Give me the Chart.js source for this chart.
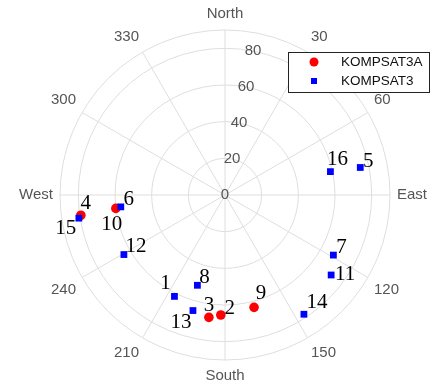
<!DOCTYPE html>
<html>
<head>
<meta charset="utf-8">
<script src="https://cdn.jsdelivr.net/npm/chart.js@4.4.1/dist/chart.umd.min.js"></script>
<style>
html, body { margin: 0; padding: 0; background: #fff; }
#wrap { width: 434px; height: 385px; }
</style>
</head>
<body>
<div id="wrap"><canvas id="sky"></canvas></div>
<script>
// azimuth labels every 30 deg, clockwise from north
const azLabels = ['North', '30', '60', 'East', '120', '150', 'South', '210', '240', 'West', '300', '330'];
const rTicks = [0, 20, 40, 60, 80];

// KOMPSAT3A
const k3aIds = [2, 3, 4, 9, 10];
const k3aAz = [181.9, 187.6, 262.1, 165.3, 263.2];
const k3aR = [65.5, 67.3, 79.4, 63.3, 60.0];

// KOMPSAT3
const k3Ids = [1, 5, 6, 7, 8, 11, 12, 13, 14, 15, 16];
const k3Az = [206.7, 78.6, 263.4, 118.9, 196.8, 126.9, 239.3, 195.6, 146.3, 260.8, 77.7];
const k3R = [61.8, 75.3, 57.2, 67.6, 51.5, 72.5, 64.0, 65.4, 78.0, 80.7, 58.9];

const SLOTS = 720; // half a degree per radar slot

function toSlots(az, r, ids) {
    const data = new Array(SLOTS).fill(null);
    const slotIds = new Array(SLOTS).fill(null);
    az.forEach((a, i) => {
        const k = Math.round(a * SLOTS / 360) % SLOTS;
        data[k] = r[i];
        slotIds[k] = ids[i];
    });
    return { data, slotIds };
}

const s3a = toSlots(k3aAz, k3aR, k3aIds);
const s3 = toSlots(k3Az, k3R, k3Ids);
const step = SLOTS / azLabels.length;
const labels = Array.from({ length: SLOTS }, (_, i) => i % step === 0 ? azLabels[i / step] : '');

// where each number sits relative to its marker
const numOffset = {
    1: [-9, -13], 2: [9, -7], 3: [0, -12], 4: [5, -12], 5: [8, -6], 6: [8, -7],
    7: [8, -8], 8: [7, -8], 9: [7, -14], 10: [-4, 16], 11: [14, -1], 12: [12, -8],
    13: [-12, 12], 14: [13, -12], 15: [-13, 10], 16: [7, -12]
};

const numberLabels = {
    id: 'numberLabels',
    afterDatasetsDraw(chart) {
        const ctx = chart.ctx;
        ctx.save();
        ctx.fillStyle = '#000';
        ctx.font = '21px "Liberation Serif", "DejaVu Serif", serif';
        ctx.textAlign = 'center';
        ctx.textBaseline = 'middle';
        [s3a, s3].forEach((s, di) => {
            chart.getDatasetMeta(di).data.forEach((pt, k) => {
                const id = s.slotIds[k];
                if (id === null) return;
                const off = numOffset[id] || [8, -8];
                ctx.fillText(String(id), pt.x + off[0], pt.y + off[1]);
            });
        });
        ctx.restore();
    }
};

const radialTicks = {
    id: 'radialTicks',
    afterDatasetsDraw(chart) {
        const scale = chart.scales.r;
        const ctx = chart.ctx;
        const idx = Math.round(11 * SLOTS / 360); // labels run along ~11 deg
        ctx.save();
        ctx.fillStyle = '#555';
        ctx.font = '15px "Liberation Sans", Arial, sans-serif';
        ctx.textAlign = 'center';
        ctx.textBaseline = 'middle';
        rTicks.forEach(v => {
            const p = scale.getPointPositionForValue(idx, v);
            ctx.fillText(String(v), p.x, p.y);
        });
        ctx.restore();
    }
};

const boxLegend = {
    id: 'boxLegend',
    afterDraw(chart) {
        const ctx = chart.ctx;
        const x = 288, y = 52, w = 141, h = 40;
        ctx.save();
        ctx.fillStyle = '#fff';
        ctx.fillRect(x, y, w, h);
        ctx.strokeStyle = '#222';
        ctx.lineWidth = 1;
        ctx.strokeRect(x + 0.5, y + 0.5, w, h);
        ctx.font = '13.5px "Liberation Sans", Arial, sans-serif';
        ctx.textBaseline = 'middle';
        chart.data.datasets.forEach((ds, i) => {
            const cy = y + 10 + i * 19;
            ctx.fillStyle = ds.backgroundColor;
            if (ds.pointStyle === 'rect') {
                ctx.fillRect(x + 23, cy - 3, 6, 6);
            } else {
                ctx.beginPath();
                ctx.arc(x + 26, cy, 4.5, 0, Math.PI * 2);
                ctx.fill();
            }
            ctx.fillStyle = '#111';
            ctx.fillText(ds.label, x + 53, cy);
        });
        ctx.restore();
    }
};

new Chart(document.getElementById('sky'), {
    type: 'radar',
    data: {
        labels: labels,
        datasets: [{
            label: 'KOMPSAT3A',
            data: s3a.data,
            showLine: false,
            pointStyle: 'circle',
            pointRadius: 4.8,
            pointHoverRadius: 4.8,
            backgroundColor: '#ff0000',
            borderColor: '#ff0000',
            pointBackgroundColor: '#ff0000',
            pointBorderColor: '#ff0000',
            pointBorderWidth: 0,
            order: 2
        }, {
            label: 'KOMPSAT3',
            data: s3.data,
            showLine: false,
            pointStyle: 'rect',
            pointRadius: 4.8,
            pointHoverRadius: 4.8,
            backgroundColor: '#0000ff',
            borderColor: '#0000ff',
            pointBackgroundColor: '#0000ff',
            pointBorderColor: '#0000ff',
            pointBorderWidth: 0,
            order: 1
        }]
    },
    options: {
        responsive: true,
        maintainAspectRatio: false,
        animation: false,
        layout: { padding: { left: 14, right: 0, top: 5, bottom: 0 } },
        plugins: {
            legend: { display: false },
            tooltip: { enabled: false }
        },
        scales: {
            r: {
                min: 0,
                max: 90,
                ticks: { stepSize: 20, display: false },
                grid: { circular: true, color: '#dedede', lineWidth: 1 },
                angleLines: {
                    color: '#dedede',
                    lineWidth: (c) => c.index % step === 0 ? 1 : 0
                },
                pointLabels: {
                    color: '#555',
                    padding: 7,
                    font: { family: 'Liberation Sans', size: 15 }
                }
            }
        }
    },
    plugins: [numberLabels, radialTicks, boxLegend]
});
</script>
</body>
</html>
